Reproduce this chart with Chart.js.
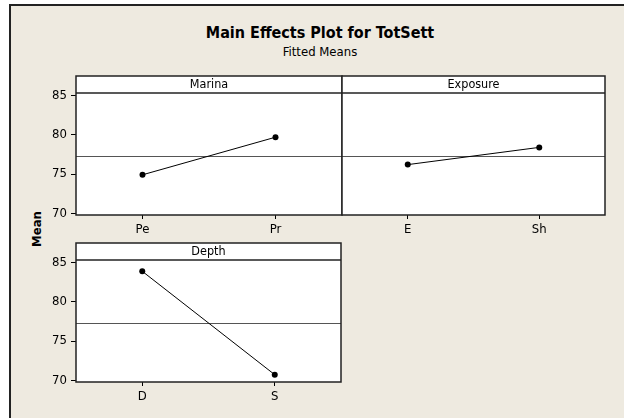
<!DOCTYPE html>
<html>
<head>
<meta charset="utf-8">
<script src="https://cdn.jsdelivr.net/npm/chart.js@4.4.0/dist/chart.umd.min.js"></script>
<style>
  body { margin: 0; background: #fff; width: 624px; height: 418px; overflow: hidden; }
  #frame { position: absolute; left: 9px; top: 4px; width: 615px; height: 414px; box-sizing: border-box;
           background: #eeeae0; border-left: 2px solid #222; border-top: 2px solid #222; }
  canvas { position: absolute; left: 0; top: 0; }
  .txt { position: absolute; font-family: Tahoma, 'DejaVu Sans Condensed', 'DejaVu Sans', sans-serif; color: #000; white-space: nowrap; }
  #title { left: 120px; width: 400px; top: 23px; text-align: center; font-weight: bold; font-size: 16px; line-height: 19px; }
  #subtitle { left: 120px; width: 400px; top: 44px; text-align: center; font-size: 13px; line-height: 15px; }
  #ylab { left: 7px; width: 60px; top: 221px; text-align: center; font-weight: bold; font-size: 13px; line-height: 16px;
          transform: rotate(-90deg); }
</style>
</head>
<body>
<div id="frame"></div>
<div class="txt" id="title">Main Effects Plot for TotSett</div>
<div class="txt" id="subtitle">Fitted Means</div>
<div class="txt" id="ylab">Mean</div>
<canvas id="marina" width="624" height="418"></canvas>
<canvas id="exposure" width="624" height="418"></canvas>
<canvas id="depth" width="624" height="418"></canvas>
<script>
// data
const factors = ["Marina", "Exposure", "Depth"];
const marinaLevels = ["Pe", "Pr"];
const marinaMeans = [74.9, 79.7];
const exposureLevels = ["E", "Sh"];
const exposureMeans = [76.2, 78.4];
const depthLevels = ["D", "S"];
const depthMeans = [83.9, 70.7];
const overallMean = 77.3;
const yTicks = [70, 75, 80, 85];

Chart.defaults.font.family = "Tahoma, 'DejaVu Sans Condensed', 'DejaVu Sans', sans-serif";
Chart.defaults.color = "#000";

const W = 624, H = 418;
const yAxisW = 30, xAxisH = 20, headerH = 17;

const panelBox = {
    id: 'panelBox',
    beforeDraw(chart, args, opts) {
        const { ctx, chartArea: { left, right, top, bottom } } = chart;
        ctx.save();
        ctx.fillStyle = '#fff';
        ctx.fillRect(left, top - headerH, right - left, bottom - top + headerH);
        ctx.restore();
    },
    beforeDatasetsDraw(chart, args, opts) {
        const { ctx, chartArea: { left, right }, scales: { y } } = chart;
        const yy = Math.round(y.getPixelForValue(overallMean)) + 0.5;
        ctx.save();
        ctx.strokeStyle = '#555';
        ctx.lineWidth = 1;
        ctx.beginPath();
        ctx.moveTo(left, yy);
        ctx.lineTo(right, yy);
        ctx.stroke();
        ctx.restore();
    },
    afterDraw(chart, args, opts) {
        const { ctx, chartArea: { left, right, top, bottom } } = chart;
        ctx.save();
        ctx.strokeStyle = '#222';
        ctx.lineWidth = 1.5;
        ctx.strokeRect(left, top - headerH, right - left, bottom - top + headerH);
        ctx.beginPath();
        ctx.moveTo(left, top);
        ctx.lineTo(right, top);
        ctx.stroke();
        ctx.font = "12.5px " + Chart.defaults.font.family;
        ctx.fillStyle = '#000';
        ctx.textAlign = 'center';
        ctx.textBaseline = 'middle';
        ctx.fillText(opts.label, (left + right) / 2, top - headerH / 2 + 0.5);
        ctx.restore();
    }
};

function makePanel(id, label, levels, means, area, showY) {
    const config = {
        type: "line",
        data: {
            labels: levels,
            datasets: [{
                data: means,
                borderColor: '#000',
                borderWidth: 1,
                pointRadius: 3,
                pointBackgroundColor: '#000',
                pointBorderWidth: 0,
                tension: 0
            }]
        },
        options: {
            responsive: false,
            animation: false,
            layout: {
                padding: {
                    left: area.left - yAxisW,
                    right: W - area.right,
                    top: area.top,
                    bottom: H - area.bottom - xAxisH
                }
            },
            plugins: {
                legend: { display: false },
                tooltip: { enabled: false },
                panelBox: { label: label }
            },
            scales: {
                x: {
                    offset: true,
                    grid: { display: true, drawOnChartArea: false, drawTicks: true, tickLength: 4, tickColor: '#000', tickWidth: 1 },
                    border: { display: false },
                    ticks: { font: { size: 13 }, color: '#000', padding: 3 },
                    afterFit(s) { s.height = xAxisH; }
                },
                y: {
                    min: 69.77,
                    max: 85.34,
                    grid: { display: true, drawOnChartArea: false, drawTicks: showY, tickLength: 5, tickColor: '#000', tickWidth: 1 },
                    border: { display: false },
                    ticks: { display: showY, font: { size: 13 }, color: '#000', padding: 4 },
                    afterBuildTicks(s) { s.ticks = yTicks.map(v => ({ value: v })); },
                    afterFit(s) { s.width = yAxisW; }
                }
            }
        },
        plugins: [panelBox]
    };
    return new Chart(document.getElementById(id), config);
}

makePanel("marina", factors[0], marinaLevels, marinaMeans, { left: 76, right: 342, top: 93, bottom: 215 }, true);
makePanel("exposure", factors[1], exposureLevels, exposureMeans, { left: 342, right: 605, top: 93, bottom: 215 }, false);
makePanel("depth", factors[2], depthLevels, depthMeans, { left: 76, right: 341, top: 260, bottom: 382 }, true);
</script>
</body>
</html>
